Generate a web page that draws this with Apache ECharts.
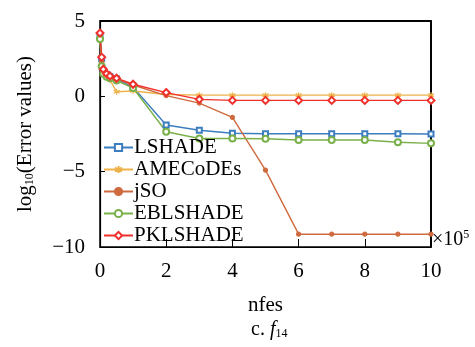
<!DOCTYPE html>
<html><head><meta charset="utf-8">
<script src="https://cdn.jsdelivr.net/npm/echarts@6/dist/echarts.min.js"></script>
<style>html,body{margin:0;padding:0;background:#fff}#c{width:475px;height:347px}</style>
</head><body><div id="c"></div>
<script>
var nfes = [0, 0.05, 0.1, 0.2, 0.3, 0.5, 1, 2, 3, 4, 5, 6, 7, 8, 9, 10];
var LSHADE   = [4.0, 2.5, 1.7, 1.45, 1.3, 1.15, 0.6, -1.9, -2.25, -2.45, -2.48, -2.48, -2.48, -2.48, -2.48, -2.5];
var AMECoDEs = [3.8, 2.2, 1.5, 1.3, 1.1, 0.3, 0.35, 0.12, 0.08, 0.08, 0.08, 0.08, 0.08, 0.08, 0.08, 0.08];
var jSO      = [4.0, 2.3, 1.6, 1.4, 1.25, 1.15, 0.75, 0.05, -0.45, -1.4, -4.9, -9.15, -9.15, -9.15, -9.15, -9.15];
var EBLSHADE = [3.8, 2.0, 1.5, 1.3, 1.2, 1.05, 0.55, -2.35, -2.8, -2.8, -2.82, -2.9, -2.9, -2.9, -3.05, -3.12];
var PKLSHADE = [4.2, 2.6, 1.8, 1.5, 1.35, 1.2, 0.8, 0.25, -0.2, -0.27, -0.27, -0.27, -0.27, -0.27, -0.27, -0.27];
var yTicks = [5, 0, -5, -10];
var xTicks = [0, 2, 4, 6, 8, 10];

var FONT = 'Liberation Serif';
var xMin = xTicks[0], xMax = xTicks[xTicks.length - 1];
var yMax = yTicks[0], yMin = yTicks[yTicks.length - 1];
function pairs(ys){ return nfes.map(function(x,i){ return [x, ys[i]]; }); }
var star = 'path://M0,-10L0,10M-8.66,-5L8.66,5M-8.66,5L8.66,-5M-1,0L1,0';
function mk(name, ys, color, symbol, size){
  return {
    name: name, type: 'line', data: pairs(ys), symbol: symbol, symbolSize: size,
    showAllSymbol: true,
    lineStyle: {color: color, width: 1.4},
    itemStyle: {color: color, borderColor: color, borderWidth: 1.2},
    emphasis: {disabled: true}
  };
}
var chart = echarts.init(document.getElementById('c'));
chart.setOption({
  animation: false,
  grid: {left: 100, top: 21, width: 331, height: 226, show: true, borderColor: '#000', borderWidth: 1.5, backgroundColor: 'rgba(0,0,0,0)'},
  legend: {
    orient: 'vertical', left: 103, top: 137, padding: 0, itemGap: 1, itemWidth: 29, itemHeight: 9,
    textStyle: {fontFamily: FONT, fontSize: 21, color: '#000', lineHeight: 21, padding: [0,0,0,-4]},
    data: ['LSHADE', 'AMECoDEs', 'jSO', 'EBLSHADE', 'PKLSHADE']
  },
  xAxis: [{
    type: 'value', min: xMin, max: xMax, interval: 2, position: 'bottom',
    axisLine: {onZero: false, lineStyle: {color: '#000', width: 1.2}},
    splitLine: {show: false},
    axisTick: {inside: true, length: 8, lineStyle: {color: '#000'}},
    axisLabel: {fontFamily: FONT, fontSize: 21, color: '#000', margin: 14},
    name: 'nfes', nameLocation: 'middle', nameGap: 48,
    nameTextStyle: {fontFamily: FONT, fontSize: 21, color: '#000'}
  }, {
    type: 'value', min: xMin, max: xMax, interval: 2, position: 'top', show: true,
    axisLine: {show: true, onZero: false, lineStyle: {color: '#000', width: 1.5}},
    splitLine: {show: false}, axisTick: {show: false}, axisLabel: {show: false}
  }],
  yAxis: [{
    type: 'value', min: yMin, max: yMax, interval: 5, position: 'left',
    axisLine: {onZero: false, lineStyle: {color: '#000', width: 1.2}},
    splitLine: {show: false},
    axisTick: {inside: true, length: 5, lineStyle: {color: '#000'}},
    axisLabel: {fontFamily: FONT, fontSize: 21, color: '#000', margin: 15,
      formatter: function(v){ return v < 0 ? '\u2212' + (-v) : String(v); }},
    name: 'log{s|10}(Error values)', nameLocation: 'middle', nameGap: 64, nameRotate: 90,
    nameTextStyle: {fontFamily: FONT, fontSize: 21, color: '#000',
      rich: {s: {fontFamily: FONT, fontSize: 12, color: '#000', verticalAlign: 'bottom', padding: [9,0,0,0]}}}
  }, {
    type: 'value', min: yMin, max: yMax, interval: 5, position: 'right', show: true,
    axisLine: {show: true, onZero: false, lineStyle: {color: '#000', width: 1.5}},
    splitLine: {show: false}, axisTick: {show: false}, axisLabel: {show: false}
  }],
  series: [
    {type: 'line', name: 'frame', silent: true, symbol: 'none', clip: false, z: 1,
     data: [[xMin, yMax], [xMax, yMax], [xMax, yMin]],
     lineStyle: {color: '#000', width: 1.5}, emphasis: {disabled: true}},
    mk('LSHADE', LSHADE, '#3c7dc0', 'emptyRect', 5),
    mk('AMECoDEs', AMECoDEs, '#eeb24a', star, 6),
    mk('jSO', jSO, '#cf6a3f', 'circle', 4),
    mk('EBLSHADE', EBLSHADE, '#7ab04a', 'emptyCircle', 6),
    mk('PKLSHADE', PKLSHADE, '#f0302c', 'emptyDiamond', 7)
  ],
  graphic: [
    {type: 'text', left: 432, top: 229, style: {text: '\u00d710{s|5}', fontFamily: FONT, fontSize: 20, fill: '#000',
      rich: {s: {fontFamily: FONT, fontSize: 12, fill: '#000', verticalAlign: 'top', padding: [0,0,9,0]}}}},
    {type: 'text', left: 251, top: 320, style: {text: 'c. {i|f}{s|14}', fontFamily: FONT, fontSize: 20, fill: '#000',
      rich: {i: {fontFamily: FONT, fontStyle: 'italic', fontSize: 20, fill: '#000'},
             s: {fontFamily: FONT, fontSize: 12, fill: '#000', verticalAlign: 'bottom', padding: [8,0,0,0]}}}}
  ]
});
</script></body></html>
